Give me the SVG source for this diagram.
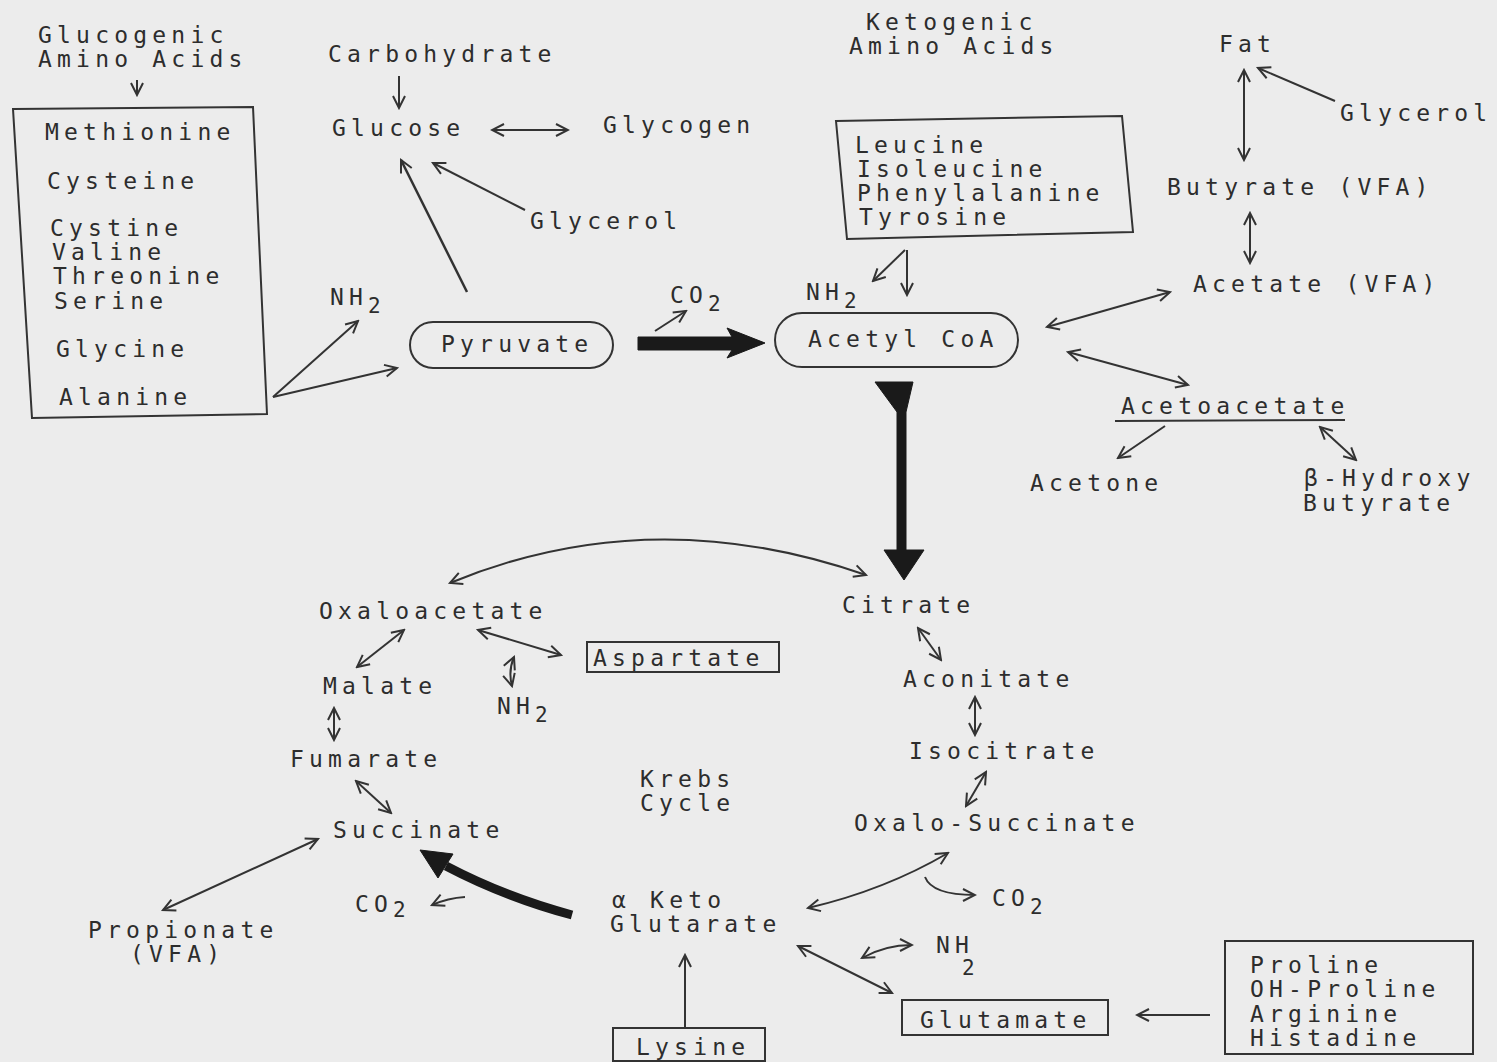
<svg xmlns="http://www.w3.org/2000/svg" width="1497" height="1062" viewBox="0 0 1497 1062">
<style>
text{font-family:"DejaVu Sans Mono","Liberation Mono",monospace;font-size:23px;letter-spacing:5.2px;fill:#2d2d2d}
.sub{font-size:21px;letter-spacing:0}
.box{fill:none;stroke:#333;stroke-width:2}
.c{fill:none;stroke:#333;stroke-width:2}
.e{marker-end:url(#ah)}
.b{marker-start:url(#ah);marker-end:url(#ah)}
.thick{fill:#1a1a1a;stroke:#1a1a1a;stroke-width:1}
</style>
<defs>
<marker id="ah" viewBox="0 0 16 16" refX="14" refY="8" markerWidth="16" markerHeight="16" markerUnits="userSpaceOnUse" orient="auto-start-reverse">
<path d="M2,2 L14,8 L2,14" fill="none" stroke="#333" stroke-width="2"/>
</marker>
</defs>
<rect width="1497" height="1062" fill="#ececec"/>

<g id="connectors">
<line class="c e" x1="137" y1="80" x2="137" y2="95"/>
<line class="c e" x1="399" y1="76" x2="399" y2="108"/>
<line class="c b" x1="492" y1="130" x2="568" y2="130"/>
<line class="c e" x1="467" y1="292" x2="401" y2="160" style="stroke-width:2.5"/>
<line class="c e" x1="525" y1="210" x2="433" y2="163"/>
<line class="c e" x1="273" y1="397" x2="358" y2="321"/>
<line class="c e" x1="273" y1="397" x2="397" y2="368"/>
<line class="c e" x1="655" y1="331" x2="686" y2="311"/>
<polygon class="thick" points="638,337 732,337 727,328 765,343 727,358 732,350 638,350"/>
<line class="c e" x1="907" y1="250" x2="907" y2="295"/>
<line class="c e" x1="905" y1="250" x2="873" y2="281"/>
<polygon class="thick" points="875,382 913,382 906,412 906,550 924,550 904,580 884,550 897,550 897,412"/>
<line class="c e" x1="1335" y1="101" x2="1258" y2="68"/>
<line class="c b" x1="1244" y1="70" x2="1244" y2="160"/>
<line class="c b" x1="1250" y1="213" x2="1250" y2="263"/>
<line class="c b" x1="1047" y1="327" x2="1170" y2="292"/>
<line class="c b" x1="1068" y1="352" x2="1188" y2="385"/>
<line class="c" x1="1115" y1="421" x2="1345" y2="420"/>
<line class="c e" x1="1165" y1="426" x2="1118" y2="458"/>
<line class="c b" x1="1320" y1="427" x2="1356" y2="460"/>
<path class="c b" d="M450,583 Q650,500 866,575"/>
<line class="c b" x1="478" y1="630" x2="561" y2="655"/>
<line class="c b" x1="404" y1="630" x2="357" y2="667"/>
<path class="c b" d="M514,657 Q508,671 512,686"/>
<line class="c b" x1="334" y1="708" x2="334" y2="740"/>
<line class="c b" x1="356" y1="781" x2="391" y2="813"/>
<line class="c b" x1="163" y1="910" x2="318" y2="839"/>
<path class="c e" d="M465,897 Q448,898 432,905"/>
<path d="M572,915 Q505,897 446,866" fill="none" stroke="#1a1a1a" stroke-width="9"/>
<polygon class="thick" points="420,850 453,854 438,878"/>
<line class="c b" x1="918" y1="628" x2="941" y2="660"/>
<line class="c b" x1="975" y1="697" x2="975" y2="735"/>
<line class="c b" x1="986" y1="772" x2="966" y2="806"/>
<path class="c b" d="M808,908 Q885,890 948,853"/>
<path class="c e" d="M925,877 Q932,895 975,895"/>
<line class="c b" x1="798" y1="946" x2="892" y2="993"/>
<path class="c b" d="M862,958 Q885,945 912,945"/>
<line class="c e" x1="685" y1="1028" x2="685" y2="955"/>
<line class="c e" x1="1210" y1="1015" x2="1137" y2="1015"/>
</g>

<g id="glucogenic-label"><text x="38" y="43">Glucogenic</text><text x="38" y="67">Amino Acids</text></g>
<g id="glucogenic-box">
<polygon class="box" points="13,109 253,107 267,414 32,418"/>
<text x="45" y="140">Methionine</text>
<text x="47" y="189">Cysteine</text>
<text x="50" y="236">Cystine</text>
<text x="52" y="260">Valine</text>
<text x="53" y="284">Threonine</text>
<text x="54" y="309">Serine</text>
<text x="56" y="357">Glycine</text>
<text x="59" y="405">Alanine</text>
</g>
<g id="carbohydrate"><text x="328" y="62">Carbohydrate</text></g>
<g id="glucose"><text x="332" y="136">Glucose</text></g>
<g id="glycogen"><text x="603" y="133">Glycogen</text></g>
<g id="glycerol1"><text x="530" y="229">Glycerol</text></g>
<g id="nh2-a"><text x="330" y="305">NH</text><text class="sub" x="368" y="313">2</text></g>
<g id="pyruvate"><rect class="box" x="410" y="322" width="203" height="46" rx="23"/><text x="441" y="352">Pyruvate</text></g>
<g id="co2-a"><text x="670" y="303">CO</text><text class="sub" x="708" y="311">2</text></g>
<g id="nh2-b"><text x="806" y="300">NH</text><text class="sub" x="844" y="308">2</text></g>
<g id="acetylcoa"><rect class="box" x="775" y="313" width="243" height="54" rx="27"/><text x="808" y="347">Acetyl CoA</text></g>
<g id="ketogenic-label"><text x="866" y="30">Ketogenic</text><text x="849" y="54">Amino Acids</text></g>
<g id="ketogenic-box">
<polygon class="box" points="836,121 1122,116 1133,232 847,239"/>
<text x="855" y="153">Leucine</text>
<text x="857" y="177">Isoleucine</text>
<text x="857" y="201">Phenylalanine</text>
<text x="859" y="225">Tyrosine</text>
</g>
<g id="fat"><text x="1219" y="52">Fat</text></g>
<g id="glycerol2"><text x="1340" y="121">Glycerol</text></g>
<g id="butyrate"><text x="1167" y="195">Butyrate (VFA)</text></g>
<g id="acetate"><text x="1193" y="292">Acetate (VFA)</text></g>
<g id="acetoacetate"><text x="1121" y="414">Acetoacetate</text></g>
<g id="acetone"><text x="1030" y="491">Acetone</text></g>
<g id="bhb"><text x="1304" y="486">β-Hydroxy</text><text x="1303" y="511">Butyrate</text></g>
<g id="oxaloacetate"><text x="319" y="619">Oxaloacetate</text></g>
<g id="citrate"><text x="842" y="613">Citrate</text></g>
<g id="aspartate"><rect class="box" x="587" y="642" width="192" height="30"/><text x="593" y="666">Aspartate</text></g>
<g id="malate"><text x="323" y="694">Malate</text></g>
<g id="nh2-c"><text x="497" y="714">NH</text><text class="sub" x="535" y="722">2</text></g>
<g id="fumarate"><text x="290" y="767">Fumarate</text></g>
<g id="krebs"><text x="640" y="787">Krebs</text><text x="640" y="811">Cycle</text></g>
<g id="succinate"><text x="333" y="838">Succinate</text></g>
<g id="aconitate"><text x="903" y="687">Aconitate</text></g>
<g id="isocitrate"><text x="909" y="759">Isocitrate</text></g>
<g id="oxalosuccinate"><text x="854" y="831">Oxalo-Succinate</text></g>
<g id="propionate"><text x="88" y="938">Propionate</text><text x="130" y="962">(VFA)</text></g>
<g id="co2-b"><text x="355" y="912">CO</text><text class="sub" x="393" y="917">2</text></g>
<g id="aketo"><text x="612" y="908">α Keto</text><text x="610" y="932">Glutarate</text></g>
<g id="co2-c"><text x="992" y="906">CO</text><text class="sub" x="1030" y="914">2</text></g>
<g id="nh2-d"><text x="936" y="953">NH</text><text class="sub" x="962" y="975">2</text></g>
<g id="glutamate"><rect class="box" x="902" y="1000" width="206" height="35"/><text x="920" y="1028">Glutamate</text></g>
<g id="lysine"><rect class="box" x="613" y="1028" width="152" height="33"/><text x="636" y="1055">Lysine</text></g>
<g id="proline-box">
<rect class="box" x="1225" y="941" width="248" height="113"/>
<text x="1250" y="973">Proline</text>
<text x="1250" y="997">OH-Proline</text>
<text x="1250" y="1022">Arginine</text>
<text x="1250" y="1046">Histadine</text>
</g>
</svg>
